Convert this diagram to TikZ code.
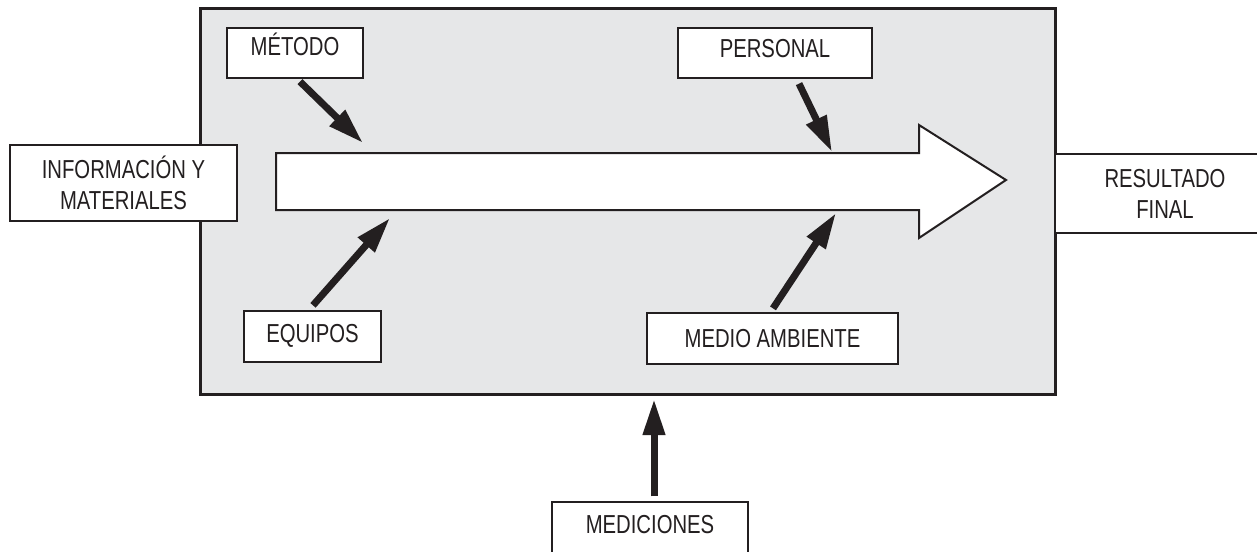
\documentclass[tikz,border=0pt]{standalone}
\usepackage{fontspec}
\setmainfont{Liberation Sans}[FakeStretch=0.78]
\usetikzlibrary{arrows.meta}
\definecolor{ink}{HTML}{231F20}
\definecolor{panel}{HTML}{E6E7E8}
\tikzset{
  x=1pt,y=-1pt,
  every node/.style={font=\fontsize{26}{31}\selectfont, text=ink},
  frame/.style={draw=ink, line width=3pt, fill=panel, inner sep=0pt},
  labelbox/.style={draw=ink, line width=1.3pt, fill=white, inner xsep=0pt, inner ysep=0pt, align=center},
  bigarrow/.style={draw=ink, line width=2pt, fill=white, line join=miter},
  push/.style={draw=ink, line width=7pt, -{Triangle[length=36pt,width=21pt]}},
}
\begin{document}
\begin{tikzpicture}
\useasboundingbox (0,0) rectangle (1257,551);
% main process frame
\node[frame, minimum width=855pt, minimum height=385pt] (frame) at (627.5,201.5) {};
% big process arrow
\coordinate (s1) at (276,153);
\coordinate (s2) at (919,153);
\coordinate (h1) at (919,125);
\coordinate (tip) at (1006,180);
\coordinate (h2) at (919,238);
\coordinate (s3) at (919,210);
\coordinate (s4) at (276,210);
\draw[bigarrow] (s1) -- (s2) -- (h1) -- (tip) -- (h2) -- (s3) -- (s4) -- cycle;
% boxes
\node[labelbox, minimum width=136pt, minimum height=50pt, text height=28pt, text depth=22pt] (metodo) at (295,53) {MÉTODO};
\node[labelbox, minimum width=194pt, minimum height=50pt, text height=30pt, text depth=20pt] (personal) at (775,53) {PERSONAL};
\node[labelbox, minimum width=227pt, minimum height=76pt] (info) at (123.5,183) {INFORMACIÓN Y\\MATERIALES};
\node[labelbox, minimum width=220pt, minimum height=79pt] (result) at (1165,193.5) {RESULTADO\\FINAL};
\node[labelbox, minimum width=137pt, minimum height=51pt, text height=31pt, text depth=20pt] (equipos) at (312.5,336.5) {EQUIPOS};
\node[labelbox, minimum width=251pt, minimum height=51pt, text height=34pt, text depth=17pt] (medio) at (772.5,338.5) {MEDIO AMBIENTE};
\node[labelbox, minimum width=196pt, minimum height=60pt, text height=31pt, text depth=29pt] (medic) at (650,532) {MEDICIONES};
% arrow end points on the process arrow and frame
\coordinate (mt) at (363,143);
\coordinate (pt) at (832,152);
\coordinate (et) at (390,218);
\coordinate (at) at (836,213);
\coordinate (ct) at (654,399);
% input arrows
\draw[push] ([xshift=5pt,yshift=-3pt]metodo.south) -- (mt);
\draw[push] ([xshift=24pt,yshift=-5pt]personal.south) -- (pt);
\draw[push] ([xshift=0.5pt,yshift=5pt]equipos.north) -- (et);
\draw[push] ([xshift=0.5pt,yshift=4pt]medio.north) -- (at);
\draw[push] ([xshift=4pt,yshift=5pt]medic.north) -- (ct);
\end{tikzpicture}
\end{document}
